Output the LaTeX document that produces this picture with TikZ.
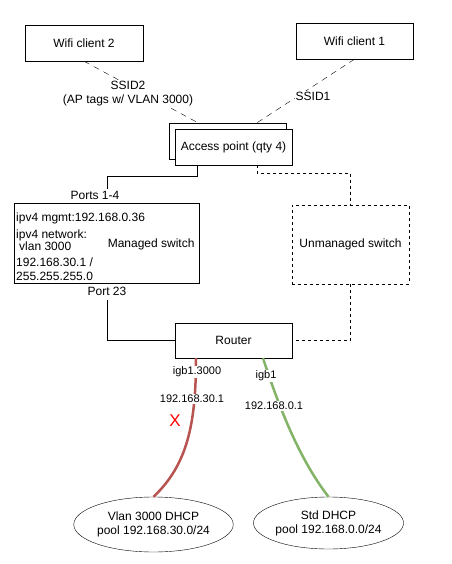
\documentclass[tikz,border=0pt]{standalone}
\usepackage{fontspec}
\setmainfont{Liberation Sans}
\usetikzlibrary{calc, positioning, shapes}

\definecolor{vlanred}{RGB}{184,84,80}
\definecolor{stdgreen}{RGB}{130,179,102}

\begin{document}
\begin{tikzpicture}[x=1pt, y=-1pt, font=\fontsize{12}{14}\selectfont,
	box/.style={draw, fill=white, inner sep=0pt},
	pool/.style={draw, ellipse, inner sep=0pt, align=center},
	air/.style={dash pattern=on 6pt off 5pt},
	lan/.style={dash pattern=on 3pt off 3pt},
	lbl/.style={fill=white, inner sep=1pt, font=\fontsize{11}{12}\selectfont},
	trunk/.style={line width=2.5pt}]
	\useasboundingbox (0,0) rectangle (451,564);
	% clients and access point
	\node[box, minimum width=118pt, minimum height=36pt] (wc2) at (84,43) {Wifi client 2};
	\node[box, minimum width=117pt, minimum height=36pt] (wc1) at (354.5,41) {Wifi client 1};
	\node[box, minimum width=117pt, minimum height=36pt] (apback) at (227.5,141) {};
	\node[box, minimum width=117pt, minimum height=36pt] (ap) at (233.5,147) {Access point (qty 4)};
	\draw[air] (wc2.south) -- ([xshift=-29.5pt]apback.north);
	\draw[air] (wc1.south) -- ([xshift=29.5pt]apback.north);
	\node[fill=white, inner sep=1pt, align=center] (ssid2) at (128,94) {SSID2\\(AP tags w/ VLAN 3000)};
	\node[fill=white, inner sep=1pt] (ssid1) at (313,96) {SSID1};
	% switches
	\node[box, minimum width=185pt, minimum height=80pt] (mswitch) at (106.5,243) {};
	\node[anchor=east] (mlabel) at (198,244) {Managed switch};
	\node[anchor=north west, align=left, inner sep=0pt] (mtext) at (16,213) {ipv4 mgmt:192.168.0.36\\[3pt]ipv4 network:\\[-2pt]\hspace{3pt}vlan 3000\\[2pt]192.168.30.1 /\\255.255.255.0};
	\node[box, lan, minimum width=117pt, minimum height=79pt] (uswitch) at (350.5,244.5) {Unmanaged switch};
	\node (ports) at (95,195) {Ports 1-4};
	\node (p23) at (107,291) {Port 23};
	\coordinate (portsTop) at (107,189);
	\coordinate (p23Bot) at (107,300);
	\draw ([xshift=-36.5pt]ap.south) -- ++(0,11) -| (portsTop);
	\draw[lan] ([xshift=23.5pt]ap.south) -- ++(0,8) -| (uswitch.north);
	% router and dhcp pools
	\node[box, minimum width=117pt, minimum height=35pt] (router) at (233.5,340.5) {Router};
	\draw (p23Bot) |- (router.west);
	\draw[lan] (uswitch.south) |- (router.east);
	\node[pool, minimum width=135pt, minimum height=55pt] (vlanpool) at (153.5,524.5) {Vlan 3000 DHCP\\pool 192.168.30.0/24};
	\node[pool, minimum width=139pt, minimum height=52pt] (stdpool) at (328.5,523) {Std DHCP\\pool 192.168.0.0/24};
	\draw[trunk, vlanred] ([xshift=-37.5pt]router.south) .. controls (196,425) and (187,465) .. (vlanpool.north);
	\draw[trunk, stdgreen] ([xshift=29.5pt]router.south) .. controls (280,410) and (300,460) .. (stdpool.north);
	\node[lbl] (igbvlan) at (197,372) {igb1.3000};
	\node[lbl] (ipvlan) at (192,399) {192.168.30.1};
	\node[text=red, font=\fontsize{17}{17}\selectfont] (cross) at (175,421) {X};
	\node[lbl] (igbstd) at (266,376) {igb1};
	\node[lbl] (ipstd) at (274,406) {192.168.0.1};
\end{tikzpicture}
\end{document}
